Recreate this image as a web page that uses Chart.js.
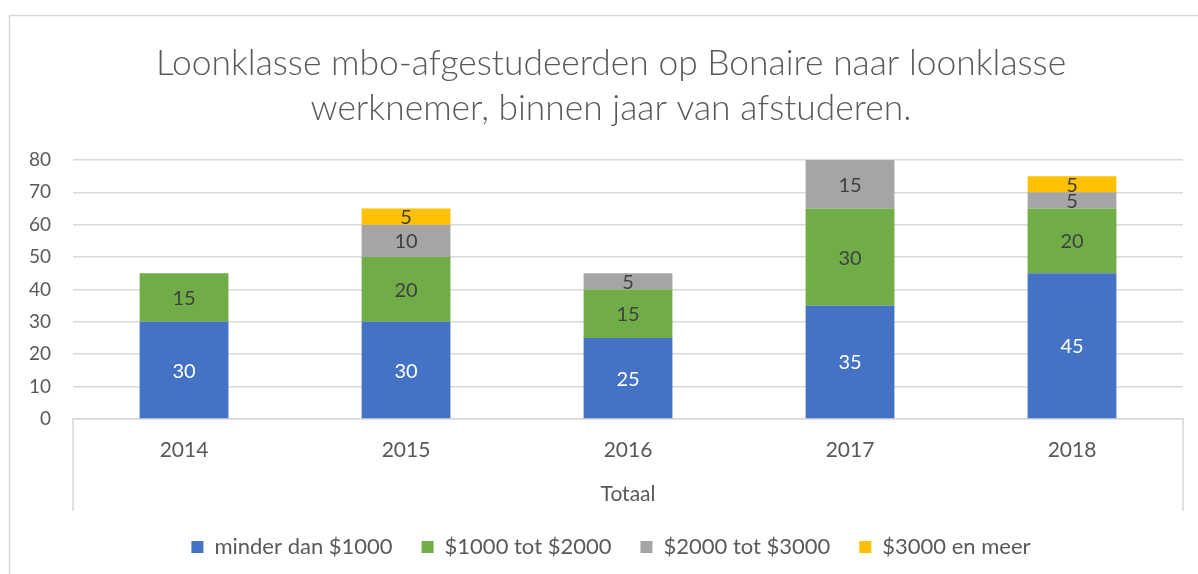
<!DOCTYPE html>
<html>
<head>
<meta charset="utf-8">
<script src="https://cdn.jsdelivr.net/npm/chart.js@4"></script>
<style>
html,body{margin:0;padding:0;background:#fff;}
#wrap{position:relative;width:1198px;height:574px;}
</style>
</head>
<body>
<div id="wrap"><canvas id="c" width="1198" height="574"></canvas></div>
<script>
const categories = ['2014', '2015', '2016', '2017', '2018'];
const seriesNames = ['minder dan $1000', '$1000 tot $2000', '$2000 tot $3000', '$3000 en meer'];
const minderDan1000 = [30, 30, 25, 35, 45];
const tot2000 = [15, 20, 15, 30, 20];
const tot3000 = [null, 10, 5, 15, 5];
const enMeer3000 = [null, 5, null, null, 5];
const yTicks = [0, 10, 20, 30, 40, 50, 60, 70, 80];
const titleLines = ['Loonklasse mbo-afgestudeerden op Bonaire naar loonklasse', 'werknemer, binnen jaar van afstuderen.'];
const xAxisTitle = 'Totaal';

const colors = ['#4472C4', '#70AD47', '#A5A5A5', '#FFC000'];
const labelColors = ['#FFFFFF', '#404040', '#404040', '#404040'];
const FONT = 'Lato, "Open Sans", sans-serif';
const CENTER_SHIFT = 16; // reference frame continues past the right edge

const borderPlugin = {
  id: 'frame',
  beforeDraw(chart) {
    if (!chart.$shifted) {
      chart.$shifted = true;
      [chart.titleBlock, chart.legend].forEach(box => {
        if (!box) return;
        const orig = box.draw.bind(box);
        box.draw = function (...args) {
          const c = chart.ctx;
          c.save();
          c.translate(CENTER_SHIFT, 0);
          orig(...args);
          c.restore();
        };
      });
    }
    const ctx = chart.ctx;
    ctx.save();
    ctx.strokeStyle = '#D9D9D9';
    ctx.lineWidth = 1.5;
    ctx.beginPath();
    ctx.moveTo(9.5, 580);
    ctx.lineTo(9.5, 15.5);
    ctx.lineTo(1205, 15.5);
    ctx.stroke();
    ctx.restore();
  },
  afterDraw(chart) {
    const ctx = chart.ctx;
    const a = chart.chartArea;
    ctx.save();
    ctx.strokeStyle = '#D9D9D9';
    ctx.lineWidth = 1.5;
    ctx.beginPath();
    ctx.moveTo(a.left, a.bottom);
    ctx.lineTo(a.left, a.bottom + 92);
    ctx.moveTo(a.right, a.bottom);
    ctx.lineTo(a.right, a.bottom + 92);
    ctx.stroke();
    // data labels
    ctx.font = '20px ' + FONT;
    ctx.textAlign = 'center';
    ctx.textBaseline = 'middle';
    chart.data.datasets.forEach((ds, i) => {
      const meta = chart.getDatasetMeta(i);
      meta.data.forEach((bar, j) => {
        const v = ds.data[j];
        if (v === null || v === undefined) return;
        const p = bar.getProps(['x', 'y', 'base'], true);
        ctx.fillStyle = labelColors[i];
        ctx.fillText(String(v), p.x, (p.y + p.base) / 2 + 1);
      });
    });
    ctx.restore();
  }
};

new Chart(document.getElementById('c'), {
  type: 'bar',
  data: {
    labels: categories,
    datasets: [minderDan1000, tot2000, tot3000, enMeer3000].map((d, i) => ({
      label: seriesNames[i],
      data: d,
      backgroundColor: colors[i],
      borderWidth: 0,
      barPercentage: 0.4,
      categoryPercentage: 1.0
    }))
  },
  options: {
    responsive: false,
    animation: false,
    devicePixelRatio: 1,
    layout: { padding: { left: 7, right: 15, top: 41.5, bottom: 6 } },
    plugins: {
      title: {
        display: true,
        text: titleLines,
        color: '#595959',
        font: { family: FONT, size: 35.4, weight: 300, lineHeight: 1.271 },
        padding: { top: 0, bottom: 28.5 }
      },
      legend: {
        position: 'bottom',
        labels: {
          color: '#595959',
          font: { family: FONT, size: 22 },
          boxWidth: 12,
          boxHeight: 12,
          padding: 29
        }
      },
      tooltip: { enabled: false }
    },
    scales: {
      x: {
        stacked: true,
        grid: { display: false },
        border: { display: true, color: '#D9D9D9', width: 1.5 },
        ticks: { color: '#595959', font: { family: FONT, size: 21 }, padding: 10.4 },
        title: { display: true, text: xAxisTitle, color: '#595959', font: { family: FONT, size: 21 }, padding: { top: 8.8, bottom: 0 } }
      },
      y: {
        stacked: true,
        min: 0,
        max: 80,
        afterBuildTicks(axis) { axis.ticks = yTicks.map(v => ({ value: v })); },
        grid: { color: '#D9D9D9', lineWidth: 1.5, drawTicks: false },
        border: { display: false },
        ticks: { color: '#595959', font: { family: FONT, size: 19 }, padding: 22 }
      }
    }
  },
  plugins: [borderPlugin]
});
</script>
</body>
</html>
